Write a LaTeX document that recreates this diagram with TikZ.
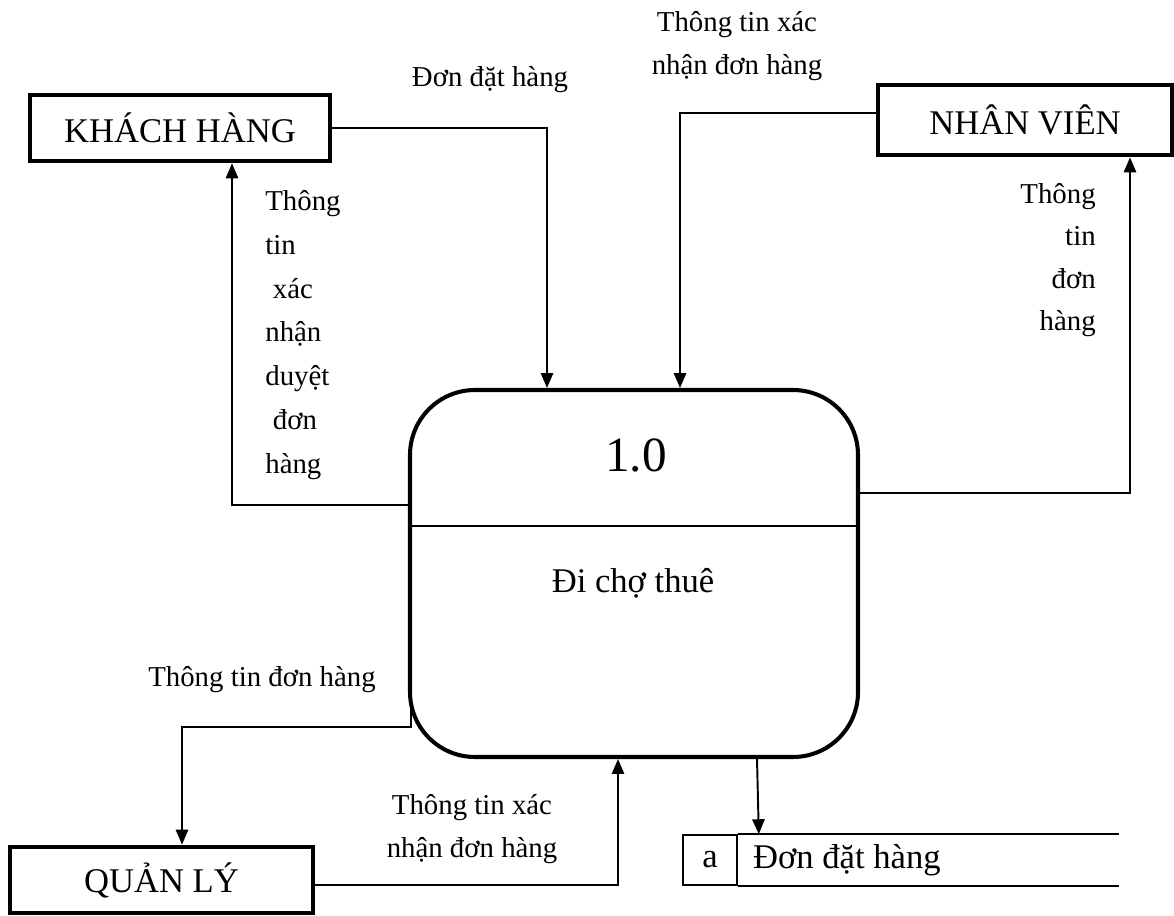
\documentclass[tikz,border=0pt]{standalone}
\usepackage{fontspec}
\setmainfont{Liberation Serif}
\usepackage{tikz}
\usetikzlibrary{arrows.meta,positioning,calc}
\usepackage{xcolor}
\definecolor{ink}{HTML}{000000}

\begin{document}
\begin{tikzpicture}[
  >={Triangle[length=8.5pt,width=7pt]},
  entity/.style={draw=ink, line width=2.7pt, minimum width=6.0cm, minimum height=1.32cm, inner sep=0pt, font=\fontsize{19.7}{24}\selectfont},
  proc/.style={draw=ink, line width=2.3pt, rounded corners=1.3cm, minimum width=8.96cm, minimum height=7.34cm, inner sep=0pt},
  arr/.style={->, line width=1.1pt, color=ink},
  lbl/.style={font=\fontsize{16.4}{24.2}\selectfont, inner sep=0pt},
  cell/.style={draw=ink, line width=0.9pt, minimum width=1.08cm, minimum height=1cm, inner sep=0pt, font=\fontsize{19.7}{24}\selectfont},
  storeTxt/.style={inner sep=0pt, font=\fontsize{19.7}{24}\selectfont},
]
\useasboundingbox (0,0) rectangle (23.48,18.3);

% externals
\node[entity] (kh) at (3.6, 15.74) {KHÁCH HÀNG};
\node[entity, minimum width=5.88cm, minimum height=1.4cm] (nv) at (20.5, 15.9) {NHÂN VIÊN};
\node[entity, minimum width=6.06cm] (ql) at (3.23, 0.7) {QUẢN LÝ};

% process 1.0
\node[proc] (p1) at (12.68, 6.83) {};
\draw[line width=0.9pt] (p1.west |- 0,7.78) -- (p1.east |- 0,7.78);
\node[font=\fontsize{28}{32}\selectfont, inner sep=0pt] (pid) at (12.72, 9.2) {1.0};
\node[storeTxt] (pname) at (12.66, 6.64) {Đi chợ thuê};

% data store
\node[cell] (dsa) at (14.2, 1.1) {a};
\node[storeTxt, anchor=west] (dsn) at ([xshift=0.3cm]dsa.east) {Đơn đặt hàng};
\draw[line width=0.9pt] (dsa.north east) -- ++(7.62,0);
\draw[line width=0.9pt] (dsa.south east) -- ++(7.62,0);

% flows
\draw[arr] (kh.east) -| ([xshift=-1.74cm]p1.north);
\draw[arr] ([yshift=0.14cm]nv.west) -| ([xshift=0.92cm]p1.north);
\draw[arr] ([yshift=1.37cm]p1.west) -| ([xshift=1.04cm]kh.south);
\draw[arr] ([yshift=1.61cm]p1.east) -| ([xshift=2.1cm]nv.south);
\draw[arr] ([xshift=0.06cm,yshift=-0.73cm]p1.west) -- ([xshift=0.06cm,yshift=-3.07cm]p1.west) -| ([xshift=0.41cm]ql.north);
\draw[arr] ([yshift=-0.1cm]ql.east) -| ([xshift=-0.32cm]p1.south);
\draw[arr] ([xshift=2.46cm]p1.south) -- ([xshift=0.42cm]dsa.north east);

% flow labels
\node[lbl] (l1) at (9.8, 16.7) {Đơn đặt hàng};
\node[lbl, align=center] (l2) at (14.74, 17.38) {Thông tin xác\\nhận đơn hàng};
\node[lbl, align=left, anchor=west, font=\fontsize{16.4}{24.9}\selectfont] (l3) at (5.3, 11.6) {Thông\\tin\\\hspace{0.15cm}xác\\nhận\\duyệt\\\hspace{0.15cm}đơn\\hàng};
\node[lbl, align=right, anchor=east] (l4) at (21.92, 13.1) {Thông\\tin\\đơn\\hàng};
\node[lbl] (l5) at (5.24, 4.7) {Thông tin đơn hàng};
\node[lbl, align=center] (l6) at (9.44, 1.72) {Thông tin xác\\nhận đơn hàng};

\end{tikzpicture}
\end{document}
